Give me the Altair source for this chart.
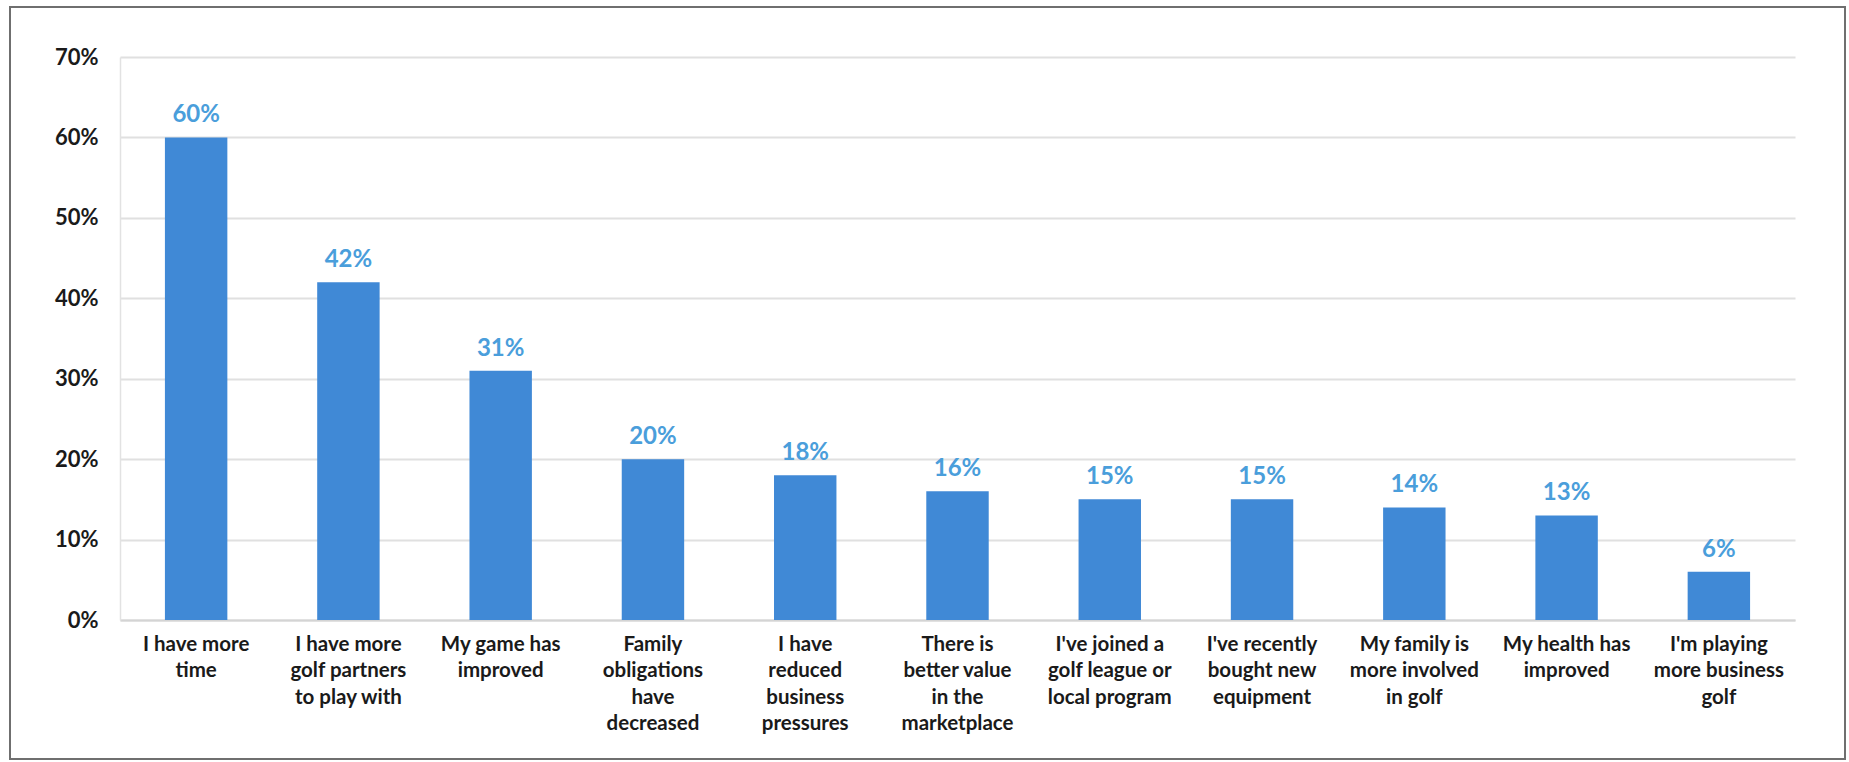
import altair as alt
import pandas as pd

categories = [
    "I have more|time",
    "I have more|golf partners|to play with",
    "My game has|improved",
    "Family|obligations|have|decreased",
    "I have|reduced|business|pressures",
    "There is|better value|in the|marketplace",
    "I've joined a|golf league or|local program",
    "I've recently|bought new|equipment",
    "My family is|more involved|in golf",
    "My health has|improved",
    "I'm playing|more business|golf",
]
values = [60, 42, 31, 20, 18, 16, 15, 15, 14, 13, 6]
y_ticks = [0, 10, 20, 30, 40, 50, 60, 70]

df = pd.DataFrame({"cat": categories, "value": values})

W, H = 1675, 563
FONT = "Lato"

base = alt.Chart(df).encode(
    x=alt.X(
        "cat:N",
        sort=categories,
        title=None,
        scale=alt.Scale(paddingInner=0.59, paddingOuter=0.295),
        axis=alt.Axis(
            labelExpr="split(datum.value, '|')",
            labelAngle=0,
            labelFont=FONT,
            labelFontSize=20.5,
            labelFontWeight="bold",
            labelColor="#1a1a1a",
            labelLineHeight=26.5,
            labelPadding=14,
            labelBaseline="top",
            labelOverlap=False,
            labelBound=False,
            ticks=False,
            domain=True,
            domainColor="#d4d4d4",
            domainWidth=2,
            grid=False,
        ),
    ),
    y=alt.Y(
        "value:Q",
        title=None,
        scale=alt.Scale(domain=[0, 70], nice=False),
        axis=alt.Axis(
            values=y_ticks,
            labelExpr="datum.value + '%'",
            labelFont=FONT,
            labelFontSize=22,
            labelFontWeight="bold",
            labelColor="#1a1a1a",
            labelPadding=22,
            ticks=False,
            domain=True,
            domainColor="#e2e2e2",
            domainWidth=1.5,
            grid=True,
            gridColor="#e0e0e0",
            gridWidth=2,
        ),
    ),
)

bars = base.mark_bar(color="#4089d6")
labels = base.transform_calculate(label="datum.value + '%'").mark_text(
    font=FONT,
    fontSize=24,
    fontWeight="bold",
    color="#4a9edb",
    baseline="alphabetic",
    dy=-15,
).encode(text="label:N")

frame = alt.Chart(pd.DataFrame({"f": [0]})).mark_rect(
    fill=None, stroke="#6f6f6f", strokeWidth=2
).encode(
    x=alt.value(-110),
    x2=alt.value(1725),
    y=alt.value(-50),
    y2=alt.value(702),
)

chart = alt.layer(frame, bars, labels).properties(
    width=W,
    height=H,
    autosize=alt.AutoSizeParams(type="none"),
    padding={"left": 120, "top": 57, "right": 54, "bottom": 142},
    background="white",
).configure_view(stroke=None)

chart.save("out.html", embed_options={"renderer": "svg", "actions": False})
